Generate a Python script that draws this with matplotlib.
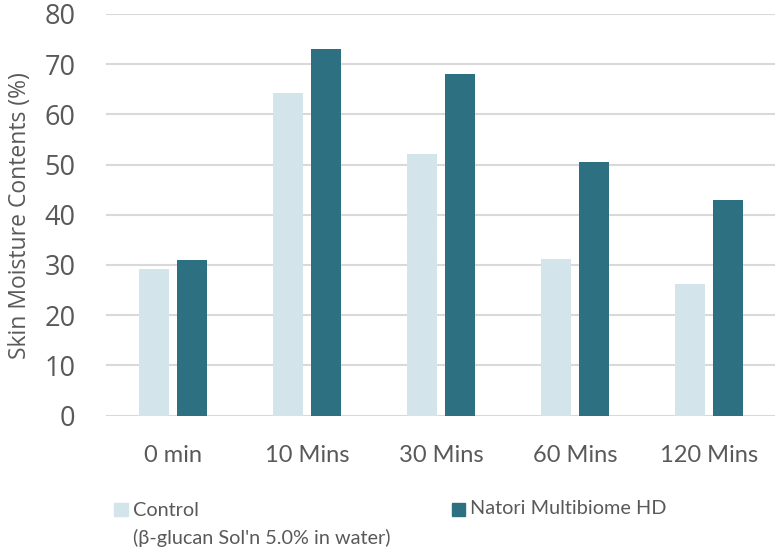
import numpy as np
import matplotlib
matplotlib.use('Agg')
import matplotlib.pyplot as plt
from matplotlib.patches import Rectangle

# chart data
categories = ['0 min', '10 Mins', '30 Mins', '60 Mins', '120 Mins']
control = [29.2, 64.2, 52.1, 31.2, 26.2]
natori = [31.0, 73.1, 68.0, 50.5, 43.0]
control_label = ['Control', '(\u03b2-glucan Sol\'n 5.0% in water)']
natori_label = 'Natori Multibiome HD'
yticks = [0, 10, 20, 30, 40, 50, 60, 70, 80]

light_col = '#D3E5EA'
dark_col = '#2C7082'
text_col = '#595959'

W, H = 775, 548
fig = plt.figure(figsize=(W / 100, H / 100), dpi=100)
ax = fig.add_axes([106 / W, 1 - 415.5 / H, 670 / W, (415.5 - 14) / H])

x = np.arange(len(categories))
bw = 0.23
ax.bar(x - 0.142, control, width=bw, color=light_col, zorder=3)
ax.bar(x + 0.142, natori, width=bw, color=dark_col, zorder=3)

ax.set_xlim(-0.5, len(categories) - 0.5)
ax.set_ylim(0, 80)
ax.set_yticks(yticks)
ax.yaxis.grid(True, color='#D9D9D9', linewidth=1.5, zorder=0)
ax.set_axisbelow(True)
for s in ax.spines.values():
    s.set_visible(False)
ax.tick_params(axis='both', length=0)
ax.tick_params(axis='y', pad=22, labelsize=19.5, labelcolor=text_col)
ax.tick_params(axis='x', pad=21, labelsize=17, labelcolor=text_col)
for lab in ax.get_yticklabels():
    lab.set_family('Open Sans')
ax.set_xticks(x)
ax.set_xticklabels(categories, family='Lato')

fig.text(20 / W, 1 - 216 / H, 'Skin Moisture Contents (%)', rotation=90,
         ha='center', va='center', fontsize=16.5, color=text_col, family='Open Sans')

# legend drawn by hand to match the layout
fig.patches.append(Rectangle((114 / W, 1 - 516 / H), 14 / W, 13 / H,
                             color=light_col, transform=fig.transFigure, figure=fig))
fig.patches.append(Rectangle((452 / W, 1 - 516 / H), 13 / W, 13 / H,
                             color=dark_col, transform=fig.transFigure, figure=fig))
fig.text(133 / W, 1 - 510 / H, control_label[0], ha='left', va='center',
         fontsize=14.3, color=text_col, family='Lato')
fig.text(133 / W, 1 - 538 / H, control_label[1], ha='left', va='center',
         fontsize=14.3, color=text_col, family='Lato')
fig.text(470 / W, 1 - 509 / H, natori_label, ha='left', va='center',
         fontsize=14.3, color=text_col, family='Lato')

fig.savefig('out.png', dpi=100)
